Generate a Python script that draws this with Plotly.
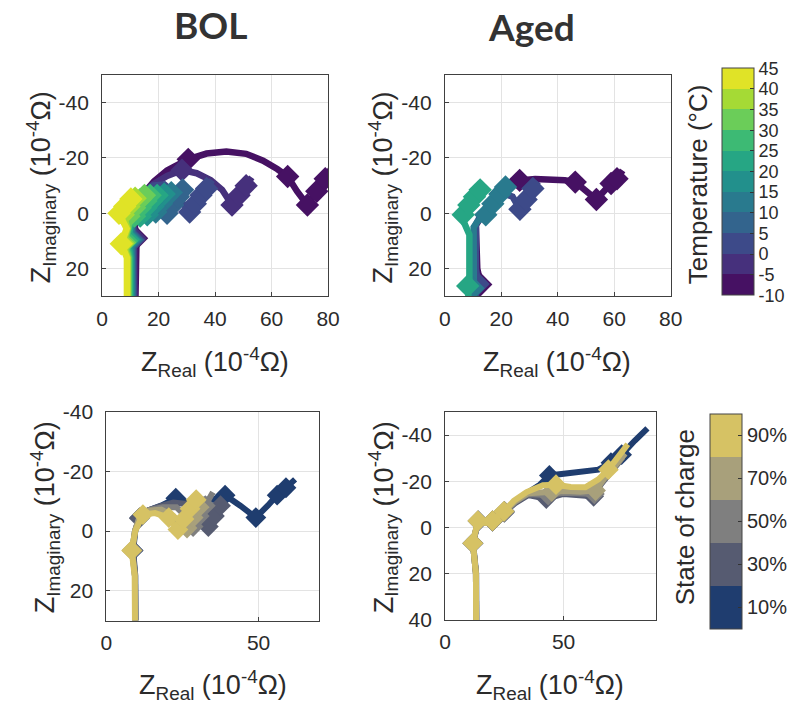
import plotly.graph_objects as go
from plotly.colors import sample_colorscale

W, H = 796, 709

# ---------------- data ----------------
TEMP_TICKS = [-10, -5, 0, 5, 10, 15, 20, 25, 30, 35, 40, 45]
SOC_LABELS = ["10%", "30%", "50%", "70%", "90%"]
SOC_VALUES = [10, 30, 50, 70, 90]
SOC_COLORS = ["#1f3d6f", "#565b71", "#7f7f7f", "#a8a07b", "#d6c264"]

# BOL, temperature sweep (band index 0..10 -> -10..40 degC)
bol_t_band = [0, 1, 2, 3, 4, 5, 6, 7, 8, 9, 10]
bol_t_x = [
    [11.8, 11.8, 12.2, 11.5, 12.5, 15.0, 18.4, 23.0, 30.5, 37.0, 44.0, 51.0, 57.0, 62.0, 65.7, 69.0, 72.7, 76.0, 79.0, 81.0],
    [11.5, 11.5, 11.7, 11.3, 12.2, 14.5, 18.0, 23.0, 28.3, 33.5, 38.5, 42.5, 46.0, 48.5, 51.0, 53.0],
    [11.2, 11.2, 11.2, 11.0, 12.0, 14.5, 18.0, 22.0, 26.0, 31.0, 33.0, 35.0, 37.0, 39.0],
    [10.9, 10.9, 10.7, 10.7, 11.8, 14.0, 17.0, 20.0, 23.0, 25.0, 27.0, 28.5, 29.5],
    [10.6, 10.6, 10.2, 10.4, 11.6, 13.5, 16.0, 19.0, 21.0, 23.0, 24.5, 25.5],
    [10.3, 10.3, 9.7, 10.2, 11.4, 13.0, 16.0, 18.0, 20.0, 22.0, 23.0],
    [10.0, 10.0, 9.2, 9.9, 11.2, 12.5, 13.5, 15.5, 17.5, 19.5, 20.5],
    [9.7, 9.7, 8.6, 9.6, 11.5, 13.5, 15.5, 17.0, 18.0],
    [9.4, 9.4, 8.0, 9.3, 9.5, 11.5, 13.5, 15.0, 16.0],
    [9.1, 9.1, 7.4, 9.0, 7.5, 9.5, 11.7, 13.0],
    [8.8, 8.8, 6.8, 8.7, 6.0, 8.0, 10.2, 11.5],
]
bol_t_y = [
    [32, 16, 9.0, 4.0, -2.0, -7.5, -11.6, -15.5, -19.5, -21.6, -22.3, -21.5, -19.0, -16.0, -13.3, -8.0, -3.0, -8.0, -12.5, -16.0],
    [32, 16, 9.0, 4.0, -2.0, -7.0, -10.5, -13.5, -15.6, -14.5, -12.0, -8.5, -3.0, -6.5, -10.0, -13.0],
    [32, 16, 9.5, 4.0, -2.5, -7.0, -10.0, -10.5, -7.0, -0.5, -3.5, -6.5, -9.0, -12.0],
    [32, 16, 9.5, 4.0, -2.5, -6.5, -8.5, -6.0, 0.0, -3.0, -6.0, -8.5, -10.5],
    [32, 16, 9.5, 4.0, -2.5, -6.5, -7.0, -0.5, -3.5, -6.0, -7.5, -9.0],
    [32, 16, 9.5, 4.0, -2.5, -5.5, 0.5, -2.5, -5.0, -7.0, -8.5],
    [32, 16, 9.5, 4.0, -2.0, -4.5, 1.0, -2.0, -4.5, -6.5, -8.0],
    [32, 16, 10.0, 4.5, 1.0, -2.0, -4.5, -6.5, -8.0],
    [32, 16, 10.5, 5.0, 1.0, -2.0, -5.0, -6.5, -8.0],
    [32, 16, 10.8, 5.5, 0.5, -2.5, -5.5, -7.5],
    [32, 16, 11.0, 5.5, 0.0, -2.5, -5.2, -7.0],
]
bol_t_mk = [
    [2, 8, 14, 16, 17, 18],
    [2, 8, 12, 13, 14],
    [2, 9, 10, 11, 12],
    [2, 8, 9, 10, 11],
    [2, 7, 8, 9, 10],
    [2, 6, 7, 8, 9],
    [2, 6, 7, 8, 9],
    [2, 4, 5, 6, 7],
    [2, 4, 5, 6, 7],
    [2, 4, 5, 6],
    [2, 4, 5, 6],
]

# Aged, temperature sweep
aged_t_band = [0, 2, 4, 6]
aged_t_x = [
    [11.5, 11.5, 12.7, 11.5, 11.0, 12.7, 16.0, 21.0, 26.5, 32.0, 38.0, 42.5, 46.2, 50.0, 53.7, 58.9, 61.0, 63.0],
    [11.0, 11.0, 11.8, 11.0, 11.0, 12.5, 16.0, 20.0, 24.0, 26.6, 28.8, 31.2, 33.0],
    [10.3, 10.3, 10.0, 10.2, 10.2, 11.5, 14.5, 17.0, 19.5, 21.5, 22.5],
    [8.5, 8.5, 8.1, 8.7, 8.7, 6.9, 6.5, 8.5, 10.5, 12.5, 14.0],
]
aged_t_y = [
    [32, 28, 25.7, 20, 4.3, 1.5, -4.0, -9.0, -11.9, -12.4, -12.3, -12.0, -11.3, -8.0, -5.0, -10.8, -12.5, -15.5],
    [32, 28, 25.5, 20, 4.0, 1.0, -4.0, -7.5, -6.0, -1.5, -5.0, -9.0, -11.5],
    [32, 29, 27.0, 20, 5.0, 3.0, 0.5, -3.5, -7.0, -9.5, -11.5],
    [32, 29, 26.2, 24, 7.7, 3.5, 0.5, -3.0, -6.0, -8.5, -10.0],
]
aged_t_mk = [
    [2, 8, 12, 14, 15, 16],
    [2, 9, 10, 11],
    [2, 6, 7, 8, 9],
    [2, 6, 7, 8, 9],
]

# BOL, state-of-charge sweep (10,30,50,70,90 %)
bol_s_x = [
    [9.6, 9.5, 8.8, 9.5, 11.0, 14.0, 18.0, 22.8, 27.0, 31.0, 35.0, 39.0, 44.0, 49.1, 53.0, 56.1, 59.0, 62.0],
    [9.5, 9.4, 8.7, 9.4, 10.8, 13.5, 17.5, 22.0, 27.0, 30.0, 33.5, 35.5, 37.5, 38.5],
    [9.5, 9.4, 8.5, 9.4, 11.0, 14.0, 18.5, 23.0, 26.0, 28.5, 30.5, 32.5, 34.0, 35.0],
    [9.5, 9.4, 8.4, 9.4, 11.0, 14.0, 18.0, 22.0, 24.5, 26.5, 28.5, 30.5, 32.0],
    [9.4, 9.3, 8.3, 9.5, 12.0, 16.0, 20.5, 23.5, 25.5, 27.5, 29.5, 31.0],
]
bol_s_y = [
    [32, 15, 6.5, 0.0, -4.5, -7.0, -8.5, -11.0, -9.5, -10.5, -10.5, -12.0, -8.5, -4.5, -8.5, -12.0, -14.5, -17.3],
    [32, 15, 6.5, 0.0, -4.3, -6.8, -8.3, -9.5, -9.0, -6.0, -1.5, -5.0, -8.5, -10.5],
    [32, 15, 6.5, 0.0, -4.8, -7.0, -8.0, -8.0, -5.0, -1.5, -5.0, -8.5, -11.0, -13.0],
    [32, 15, 6.5, 0.0, -5.0, -6.8, -7.2, -5.0, -2.0, -1.0, -4.5, -8.0, -11.0],
    [32, 15, 6.5, 0.0, -5.5, -6.0, -4.5, -0.5, -4.0, -7.5, -10.5, -12.0],
]
bol_s_mk = [
    [2, 4, 7, 11, 13, 15, 16],
    [2, 4, 10, 11, 12],
    [2, 9, 10, 11],
    [2, 9, 10, 11],
    [2, 4, 6, 7, 8, 9, 10],
]

# Aged, state-of-charge sweep
aged_s_x = [
    [13.2, 13.1, 11.8, 14.0, 17.0, 20.0, 25.0, 29.0, 34.0, 40.0, 44.0, 54.0, 64.7, 70.0, 74.5, 80.0, 85.4],
    [13.1, 13.0, 11.7, 13.9, 17.0, 20.0, 25.0, 29.5, 35.0, 42.7, 50.0, 57.0, 62.7, 66.0, 70.0, 74.0],
    [13.1, 13.0, 11.7, 13.9, 17.0, 20.0, 25.0, 29.5, 35.0, 43.5, 50.0, 57.0, 63.0, 66.5, 70.5, 75.0],
    [13.1, 13.0, 11.7, 13.9, 17.0, 20.0, 25.0, 29.5, 35.0, 45.0, 51.0, 57.0, 63.5, 67.0, 71.0, 76.0],
    [13.1, 13.0, 11.7, 13.8, 17.0, 20.0, 24.8, 29.0, 34.4, 41.3, 46.8, 53.0, 59.2, 64.7, 68.9, 73.0, 77.1],
]
aged_s_y = [
    [45, 20, 6.8, -2.8, -2.0, -2.8, -7.0, -11.0, -14.5, -18.5, -22.5, -23.8, -25.0, -28.0, -31.5, -37.5, -42.9],
    [45, 20, 6.8, -2.8, -2.0, -2.8, -6.5, -10.5, -14.0, -12.5, -14.5, -14.0, -13.5, -19.0, -24.0, -29.0],
    [45, 20, 6.8, -2.8, -2.0, -2.8, -6.8, -11.0, -14.5, -14.0, -15.0, -14.5, -14.5, -20.0, -25.0, -30.5],
    [45, 20, 6.8, -2.8, -2.0, -2.8, -7.0, -11.2, -14.8, -15.5, -15.8, -15.5, -16.0, -21.0, -26.0, -32.0],
    [45, 20, 6.8, -2.9, -2.0, -2.9, -7.0, -11.5, -15.3, -18.3, -18.5, -17.5, -17.4, -20.8, -25.0, -30.5, -36.0],
]
aged_s_mk = [
    [2, 3, 5, 6, 10, 13, 14],
    [2, 3, 5, 6, 9, 12],
    [2, 3, 5, 6, 9, 12],
    [2, 3, 5, 6, 9, 12],
    [2, 3, 5, 6, 10, 14],
]

# ---------------- style ----------------
N_BANDS = 11
VIRIDIS = sample_colorscale("Viridis", [(k + 0.5) / N_BANDS for k in range(N_BANDS)])
TXT = "#2b2b2b"
FONT = "Liberation Sans, Arial, sans-serif"


def px_x(p):
    return p / W


def px_y(p):
    return 1 - p / H


fig = go.Figure()


def add_series(xs, ys, mks, colors, xa, ya, lw, ms):
    for x, y, mk, c in zip(xs, ys, mks, colors):
        sizes = [ms if i in mk else 0 for i in range(len(x))]
        fig.add_trace(go.Scatter(
            x=x, y=y, mode="lines+markers", xaxis=xa, yaxis=ya, opacity=1,
            line=dict(color=c, width=lw),
            marker=dict(symbol="diamond", size=sizes, color=c, opacity=1, line=dict(width=0)),
            showlegend=False, hoverinfo="skip"))


add_series(bol_t_x, bol_t_y, bol_t_mk, [VIRIDIS[b] for b in bol_t_band], "x", "y", 6.5, 18)
add_series(aged_t_x, aged_t_y, aged_t_mk, [VIRIDIS[b] for b in aged_t_band], "x2", "y2", 6.5, 18)
add_series(bol_s_x, bol_s_y, bol_s_mk, SOC_COLORS, "x3", "y3", 6, 16)
add_series(aged_s_x, aged_s_y, aged_s_mk, SOC_COLORS, "x4", "y4", 6, 16)

# discrete colorscales
temp_cs = []
for k, c in enumerate(VIRIDIS):
    temp_cs += [[k / N_BANDS, c], [(k + 1) / N_BANDS, c]]
soc_cs = []
for k, c in enumerate(SOC_COLORS):
    soc_cs += [[k / 5, c], [(k + 1) / 5, c]]

cb_common = dict(thickness=32, thicknessmode="pixels", lenmode="pixels",
                 xanchor="left", yanchor="middle", xpad=0, ypad=0,
                 outlinewidth=1, outlinecolor="#444444",
                 ticks="inside", ticklen=4, tickcolor="#333333")

fig.add_trace(go.Scatter(
    x=[-100], y=[-100], mode="markers", xaxis="x", yaxis="y", showlegend=False, hoverinfo="skip",
    marker=dict(color=[-10], cmin=-10, cmax=45, colorscale=temp_cs, showscale=True, size=1,
                colorbar=dict(x=px_x(733), y=px_y(175.5), len=227,
                              tickvals=TEMP_TICKS, ticktext=[str(t) for t in TEMP_TICKS],
                              tickfont=dict(family=FONT, size=18, color=TXT),
                              **cb_common))))
fig.add_trace(go.Scatter(
    x=[-100], y=[-100], mode="markers", xaxis="x3", yaxis="y3", showlegend=False, hoverinfo="skip",
    marker=dict(color=[10], cmin=0, cmax=100, colorscale=soc_cs, showscale=True, size=1,
                colorbar=dict(x=px_x(720), y=px_y(526.5), len=215,
                              tickvals=SOC_VALUES, ticktext=SOC_LABELS,
                              tickfont=dict(family=FONT, size=20, color=TXT),
                              **cb_common))))

axis_common = dict(showgrid=True, gridcolor="#e3e3e3", gridwidth=1, zeroline=False,
                   showline=True, linecolor="#404040", linewidth=1, mirror=True,
                   ticks="inside", ticklen=4, tickcolor="#404040",
                   tickfont=dict(family=FONT, size=21, color=TXT))
xax = dict(ticklabelstandoff=3, **axis_common)
yax = dict(ticklabelstandoff=8, **axis_common)


def ytick(vals):
    return dict(tickvals=vals, ticktext=[str(v) for v in vals])


fig.update_layout(
    width=W, height=H, margin=dict(l=0, r=0, t=0, b=0),
    paper_bgcolor="white", plot_bgcolor="white",
    xaxis=dict(domain=[px_x(98.3), px_x(329.5)], range=[0, 80], tickvals=[0, 20, 40, 60, 80], anchor="y", **xax),
    yaxis=dict(domain=[px_y(294), px_y(65)], range=[30, -50], anchor="x", **ytick([-40, -20, 0, 20]), **yax),
    xaxis2=dict(domain=[px_x(449), px_x(680)], range=[0, 80], tickvals=[0, 20, 40, 60, 80], anchor="y2", **xax),
    yaxis2=dict(domain=[px_y(294), px_y(65)], range=[30, -50], anchor="x2", **ytick([-40, -20, 0, 20]), **yax),
    xaxis3=dict(domain=[px_x(102.7), px_x(320.7)], range=[0, 70], tickvals=[0, 50], anchor="y3", **xax),
    yaxis3=dict(domain=[px_y(629), px_y(413)], range=[30, -40], anchor="x3", **ytick([-40, -20, 0, 20]), **yax),
    xaxis4=dict(domain=[px_x(449.3), px_x(665)], range=[0, 89], tickvals=[0, 50], anchor="y4", **xax),
    yaxis4=dict(domain=[px_y(628.3), px_y(413.3)], range=[40, -50], anchor="x4", **ytick([-40, -20, 0, 20, 40]), **yax),
)

XT = "Z<sub>Real</sub> (10<sup>-4</sup>Ω)"
YT = "Z<sub>Imaginary</sub> (10<sup>-4</sup>Ω)"
ann = []
tf = dict(family=FONT, size=27, color=TXT)
for cx, cy in [(214, 362), (564, 362), (212, 696), (557, 696)]:
    ann.append(dict(text=XT, x=px_x(cx), y=px_y(cy), xref="paper", yref="paper",
                    xanchor="center", yanchor="middle", showarrow=False, font=tf))
for cx, cy in [(36, 181), (386, 181), (40, 522), (386, 522)]:
    ann.append(dict(text=YT, x=px_x(cx), y=px_y(cy), xref="paper", yref="paper",
                    xanchor="center", yanchor="middle", showarrow=False, font=tf, textangle=-90))
ann.append(dict(text="Temperature (°C)", x=px_x(708), y=px_y(178), xref="paper", yref="paper",
                xanchor="center", yanchor="middle", showarrow=False, font=dict(family=FONT, size=26, color=TXT), textangle=-90))
ann.append(dict(text="State of charge", x=px_x(695), y=px_y(522), xref="paper", yref="paper",
                xanchor="center", yanchor="middle", showarrow=False, font=dict(family=FONT, size=26, color=TXT), textangle=-90))
ttl = dict(family="Lato, Carlito, sans-serif", size=37, color="#333333", weight="bold")
ann.append(dict(text="<b>BOL</b>", x=px_x(209), y=px_y(13), xref="paper", yref="paper",
                xanchor="center", yanchor="middle", showarrow=False, font=ttl))
ann.append(dict(text="<b>Aged</b>", x=px_x(538), y=px_y(15), xref="paper", yref="paper",
                xanchor="center", yanchor="middle", showarrow=False, font=ttl))
fig.update_layout(annotations=ann)

fig.write_html("out.html")
